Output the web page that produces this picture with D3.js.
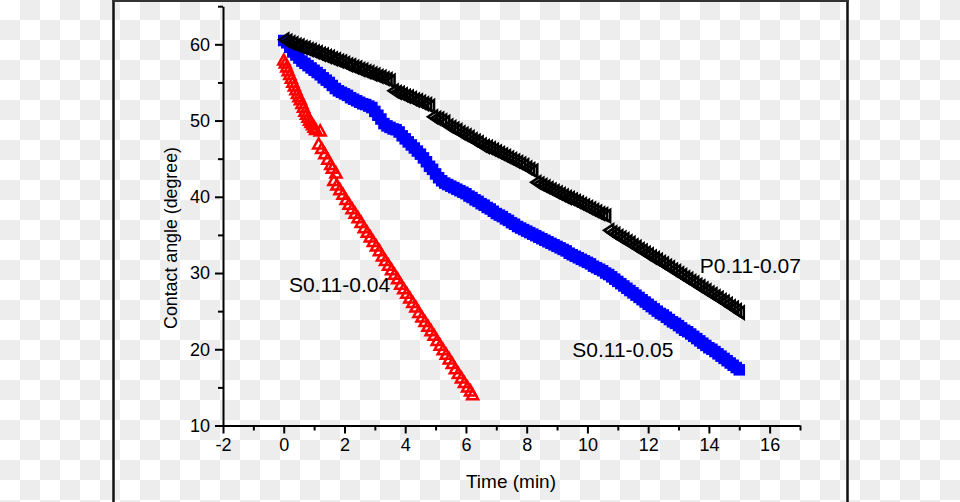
<!DOCTYPE html>
<html>
<head>
<meta charset="utf-8">
<script src="https://cdn.jsdelivr.net/npm/d3@7/dist/d3.min.js"></script>
<style>
  html, body { margin: 0; padding: 0; background: #fff; }
  svg { display: block; font-family: "Liberation Sans", Arial, sans-serif; }
</style>
</head>
<body>
<svg id="chart" width="960" height="502"></svg>
<script>
// ---------------- data ----------------
const xMajorTicks = [-2, 0, 2, 4, 6, 8, 10, 12, 14, 16];
const xMinorTicks = [-1, 1, 3, 5, 7, 9, 11, 13, 15, 17];
const yMajorTicks = [10, 20, 30, 40, 50, 60];
const yMinorTicks = [15, 25, 35, 45, 55, 65];

const seriesNames = ["S0.11-0.04", "S0.11-0.05", "P0.11-0.07"];

// P0.11-0.07 : [time (min), contact angle (degree)]
const blackPoints = [
  [0.0,60.6],[0.1,60.4],[0.2,60.2],[0.3,60.1],[0.4,59.9],[0.5,59.8],[0.6,59.6],[0.7,59.5],[0.8,59.3],[0.9,59.2],
  [1.0,59.0],[1.1,58.9],[1.2,58.7],[1.3,58.6],[1.4,58.4],[1.5,58.3],[1.6,58.1],[1.7,58.0],[1.8,57.8],[1.9,57.7],
  [2.0,57.5],[2.1,57.3],[2.2,57.2],[2.3,57.0],[2.4,56.9],[2.5,56.7],[2.6,56.6],[2.7,56.4],[2.8,56.3],[2.9,56.1],
  [3.0,56.0],[3.1,55.8],[3.2,55.7],[3.3,55.5],[3.4,55.4],[3.5,55.2],[3.6,53.9],[3.7,53.7],[3.8,53.6],[3.9,53.4],
  [4.0,53.2],[4.1,53.1],[4.2,52.9],[4.3,52.7],[4.4,52.6],[4.5,52.4],[4.6,52.2],[4.7,52.1],[4.8,51.9],[4.9,50.5],
  [5.0,50.3],[5.1,50.2],[5.2,50.0],[5.3,49.8],[5.4,49.3],[5.5,49.1],[5.6,48.9],[5.7,48.7],[5.8,48.4],[5.9,48.2],
  [6.0,48.0],[6.1,47.8],[6.2,47.5],[6.3,47.3],[6.4,47.1],[6.5,46.8],[6.6,46.6],[6.7,46.5],[6.8,46.3],[6.9,46.1],
  [7.0,45.9],[7.1,45.7],[7.2,45.5],[7.3,45.3],[7.4,45.1],[7.5,44.9],[7.6,44.7],[7.7,44.5],[7.8,44.3],[7.9,44.1],
  [8.0,43.8],[8.1,43.6],[8.2,43.4],[8.3,41.9],[8.4,41.7],[8.5,41.5],[8.6,41.3],[8.7,41.1],[8.8,40.9],[8.9,40.7],
  [9.0,40.5],[9.1,40.3],[9.2,40.1],[9.3,39.9],[9.4,39.8],[9.5,39.6],[9.6,39.4],[9.7,39.2],[9.8,39.0],[9.9,38.8],
  [10.0,38.6],[10.1,38.4],[10.2,38.2],[10.3,38.0],[10.4,37.8],[10.5,37.7],[10.6,37.5],[10.7,35.6],[10.8,35.3],[10.9,35.1],
  [11.0,34.8],[11.1,34.6],[11.2,34.4],[11.3,34.1],[11.4,33.9],[11.5,33.6],[11.6,33.4],[11.7,33.1],[11.8,32.9],[11.9,32.6],
  [12.0,32.4],[12.1,32.1],[12.2,31.9],[12.3,31.7],[12.4,31.4],[12.5,31.2],[12.6,30.9],[12.7,30.7],[12.8,30.4],[12.9,30.2],
  [13.0,29.9],[13.1,29.7],[13.2,29.4],[13.3,29.2],[13.4,28.9],[13.5,28.7],[13.6,28.4],[13.7,28.2],[13.8,27.9],[13.9,27.7],
  [14.0,27.4],[14.1,27.2],[14.2,26.9],[14.3,26.7],[14.4,26.4],[14.5,26.2],[14.6,25.9],[14.7,25.6],[14.8,25.4],[14.9,25.1],
  [15.0,24.8]
];

// S0.11-0.05
const bluePoints = [
  [0.0,60.5],[0.1,60.2],[0.2,59.6],[0.3,59.0],[0.4,58.6],[0.5,58.2],[0.6,57.8],[0.7,57.5],[0.8,57.2],[0.9,56.9],
  [1.0,56.6],[1.1,56.3],[1.2,56.0],[1.3,55.6],[1.4,55.3],[1.5,55.0],[1.6,54.6],[1.7,54.2],[1.8,53.9],[1.9,53.7],
  [2.0,53.5],[2.1,53.3],[2.2,53.0],[2.3,52.8],[2.4,52.6],[2.5,52.4],[2.6,52.2],[2.7,52.1],[2.8,51.9],[2.9,51.7],
  [3.0,51.2],[3.1,50.7],[3.2,50.2],[3.3,49.6],[3.4,49.3],[3.5,49.1],[3.6,48.9],[3.7,48.8],[3.8,48.5],[3.9,48.0],
  [4.0,47.6],[4.1,47.2],[4.2,46.8],[4.3,46.4],[4.4,46.0],[4.5,45.6],[4.6,45.1],[4.7,44.6],[4.8,44.0],[4.9,43.6],
  [5.0,43.0],[5.1,42.5],[5.2,42.1],[5.3,41.8],[5.4,41.6],[5.5,41.4],[5.6,41.2],[5.7,41.0],[5.8,40.8],[5.9,40.6],
  [6.0,40.4],[6.1,40.1],[6.2,39.9],[6.3,39.6],[6.4,39.4],[6.5,39.1],[6.6,38.9],[6.7,38.6],[6.8,38.4],[6.9,38.1],
  [7.0,37.8],[7.1,37.6],[7.2,37.4],[7.3,37.1],[7.4,36.9],[7.5,36.6],[7.6,36.4],[7.7,36.1],[7.8,35.9],[7.9,35.7],
  [8.0,35.5],[8.1,35.3],[8.2,35.1],[8.3,34.9],[8.4,34.7],[8.5,34.5],[8.6,34.3],[8.7,34.1],[8.8,33.9],[8.9,33.7],
  [9.0,33.5],[9.1,33.3],[9.2,33.1],[9.3,32.9],[9.4,32.6],[9.5,32.4],[9.6,32.2],[9.7,32.0],[9.8,31.8],[9.9,31.6],
  [10.0,31.4],[10.1,31.2],[10.2,30.9],[10.3,30.7],[10.4,30.5],[10.5,30.3],[10.6,30.0],[10.7,29.8],[10.8,29.5],[10.9,29.2],
  [11.0,28.9],[11.1,28.6],[11.2,28.3],[11.3,28.0],[11.4,27.7],[11.5,27.4],[11.6,27.1],[11.7,26.8],[11.8,26.5],[11.9,26.2],
  [12.0,25.9],[12.1,25.6],[12.2,25.3],[12.3,25.0],[12.4,24.7],[12.5,24.5],[12.6,24.2],[12.7,23.9],[12.8,23.6],[12.9,23.4],
  [13.0,23.1],[13.1,22.8],[13.2,22.5],[13.3,22.3],[13.4,22.0],[13.5,21.7],[13.6,21.4],[13.7,21.1],[13.8,20.8],[13.9,20.5],
  [14.0,20.2],[14.1,20.0],[14.2,19.7],[14.3,19.4],[14.4,19.1],[14.5,18.8],[14.6,18.5],[14.7,18.2],[14.8,17.9],[14.9,17.6],
  [15.0,17.3]
];

// S0.11-0.04
const redPoints = [
  [0.00,58.0],[0.05,57.6],[0.10,57.1],[0.15,56.6],[0.20,56.1],[0.25,55.6],[0.30,55.1],[0.35,54.6],[0.40,54.1],[0.45,53.6],
  [0.50,53.2],[0.55,52.8],[0.60,52.3],[0.65,51.8],[0.70,51.3],[0.75,50.9],[0.80,50.5],[0.85,50.1],[0.90,49.8],[0.95,49.5],
  [1.00,49.2],[1.05,48.9],[1.20,48.7],[1.15,47.0],[1.25,46.4],[1.35,45.7],[1.45,45.0],[1.55,44.3],[1.60,43.8],[1.72,43.2],
  [1.65,42.2],[1.75,41.6],[1.85,41.0],[1.95,40.4],[2.05,39.7],[2.15,39.1],[2.25,38.5],[2.35,37.9],[2.45,37.3],[2.55,36.7],
  [2.65,36.0],[2.75,35.4],[2.85,34.8],[2.95,34.2],[3.05,33.6],[3.15,33.0],[3.25,32.3],[3.35,31.7],[3.45,31.1],[3.55,30.5],
  [3.65,29.9],[3.75,29.3],[3.85,28.6],[3.95,28.0],[4.05,27.4],[4.15,26.8],[4.25,26.2],[4.35,25.6],[4.45,24.9],[4.55,24.3],
  [4.65,23.7],[4.75,23.1],[4.85,22.5],[4.95,21.9],[5.05,21.2],[5.15,20.6],[5.25,20.0],[5.35,19.4],[5.45,18.8],[5.55,18.2],
  [5.65,17.5],[5.75,16.9],[5.85,16.3],[5.95,15.7],[6.05,15.1],[6.15,14.6],[6.22,14.1]
];

// label anchor points (data coords: time, angle) for the series names
const labelPositions = [[0.17, 27.5], [9.5, 19.0], [13.7, 30.0]];

// ---------------- drawing ----------------
const W = 960, H = 502;
const svg = d3.select("#chart");

// transparency checkerboard background
const defs = svg.append("defs");
const pat = defs.append("pattern").attr("id", "checker")
  .attr("width", 40).attr("height", 40).attr("patternUnits", "userSpaceOnUse");
pat.append("rect").attr("width", 40).attr("height", 40).attr("fill", "#ffffff");
pat.append("rect").attr("x", 20).attr("y", 0).attr("width", 20).attr("height", 20).attr("fill", "#ededed");
pat.append("rect").attr("x", 0).attr("y", 20).attr("width", 20).attr("height", 20).attr("fill", "#ededed");
svg.append("rect").attr("width", W).attr("height", H).attr("fill", "url(#checker)");

// frame
svg.append("line").attr("x1", 113.5).attr("x2", 113.5).attr("y1", 0).attr("y2", H)
  .attr("stroke", "#111").attr("stroke-width", 2.5);
svg.append("line").attr("x1", 847.5).attr("x2", 847.5).attr("y1", 0).attr("y2", H)
  .attr("stroke", "#111").attr("stroke-width", 2.5);
svg.append("line").attr("x1", 112).attr("x2", 849).attr("y1", 1).attr("y2", 1)
  .attr("stroke", "#333").attr("stroke-width", 2);

const x = d3.scaleLinear().domain([-2, 17]).range([223, 800]);
const y = d3.scaleLinear().domain([10, 65]).range([425.5, 6.2]);

const fontTick = 18;
const fmt = d => String(d);   // plain hyphen-minus like the original

// ---- y axis ----
const gy = svg.append("g").attr("transform", `translate(${x(-2)},0)`);
gy.call(d3.axisLeft(y).tickValues(yMajorTicks).tickSize(8).tickSizeOuter(0).tickPadding(5)
  .tickFormat(fmt));
gy.append("g").call(d3.axisLeft(y).tickValues(yMinorTicks).tickSize(5).tickSizeOuter(0).tickFormat(""))
  .select(".domain").remove();

// ---- x axis ----
const gx = svg.append("g").attr("transform", `translate(0,${y(10)})`);
gx.call(d3.axisBottom(x).tickValues(xMajorTicks).tickSize(8).tickSizeOuter(0).tickPadding(5)
  .tickFormat(fmt));
gx.append("g").call(d3.axisBottom(x).tickValues(xMinorTicks).tickSize(5).tickSizeOuter(0).tickFormat(""))
  .select(".domain").remove();

svg.selectAll(".domain").attr("stroke", "#000").attr("stroke-width", 2);
svg.selectAll(".tick line").attr("stroke", "#000").attr("stroke-width", 2);
svg.selectAll(".tick text").attr("fill", "#000").attr("font-size", fontTick)
  .attr("font-family", "'Liberation Sans', Arial, sans-serif");

// axis titles
svg.append("text").attr("x", 511).attr("y", 488).attr("text-anchor", "middle")
  .attr("font-size", 19).attr("fill", "#000").text("Time (min)");
svg.append("text").attr("transform", "translate(177,238) rotate(-90)").attr("text-anchor", "middle")
  .attr("font-size", 17.8).attr("fill", "#000").text("Contact angle (degree)");

// ---- markers ----
function triPath(cx, cy, w, h, dir) {
  const p = d3.path();
  if (dir === "up") {
    p.moveTo(cx, cy - h / 2); p.lineTo(cx + w / 2, cy + h / 2); p.lineTo(cx - w / 2, cy + h / 2);
  } else { // left
    p.moveTo(cx - w / 2, cy); p.lineTo(cx + w / 2, cy - h / 2); p.lineTo(cx + w / 2, cy + h / 2);
  }
  p.closePath();
  return p.toString();
}

// red: open up-triangles
svg.append("g").selectAll("path").data(redPoints).join("path")
  .attr("d", d => triPath(x(d[0]), y(d[1]), 11, 10, "up"))
  .attr("fill", "none").attr("stroke", "#ff0000").attr("stroke-width", 2.5);

// blue: filled squares
const sq = 10;
svg.append("g").selectAll("rect").data(bluePoints).join("rect")
  .attr("x", d => x(d[0]) - sq / 2).attr("y", d => y(d[1]) - sq / 2)
  .attr("width", sq).attr("height", sq)
  .attr("fill", "#0000ff").attr("stroke", "#0000ff").attr("stroke-width", 1.5);

// black: open left-triangles
svg.append("g").selectAll("path").data(blackPoints).join("path")
  .attr("d", d => triPath(x(d[0]), y(d[1]), 9, 12, "left"))
  .attr("fill", "none").attr("stroke", "#000").attr("stroke-width", 2.6);

// series labels
svg.append("g").selectAll("text").data(seriesNames).join("text")
  .attr("x", (d, i) => x(labelPositions[i][0]))
  .attr("y", (d, i) => y(labelPositions[i][1]))
  .attr("font-size", 21).attr("fill", "#000")
  .text(d => d);
</script>
</body>
</html>
